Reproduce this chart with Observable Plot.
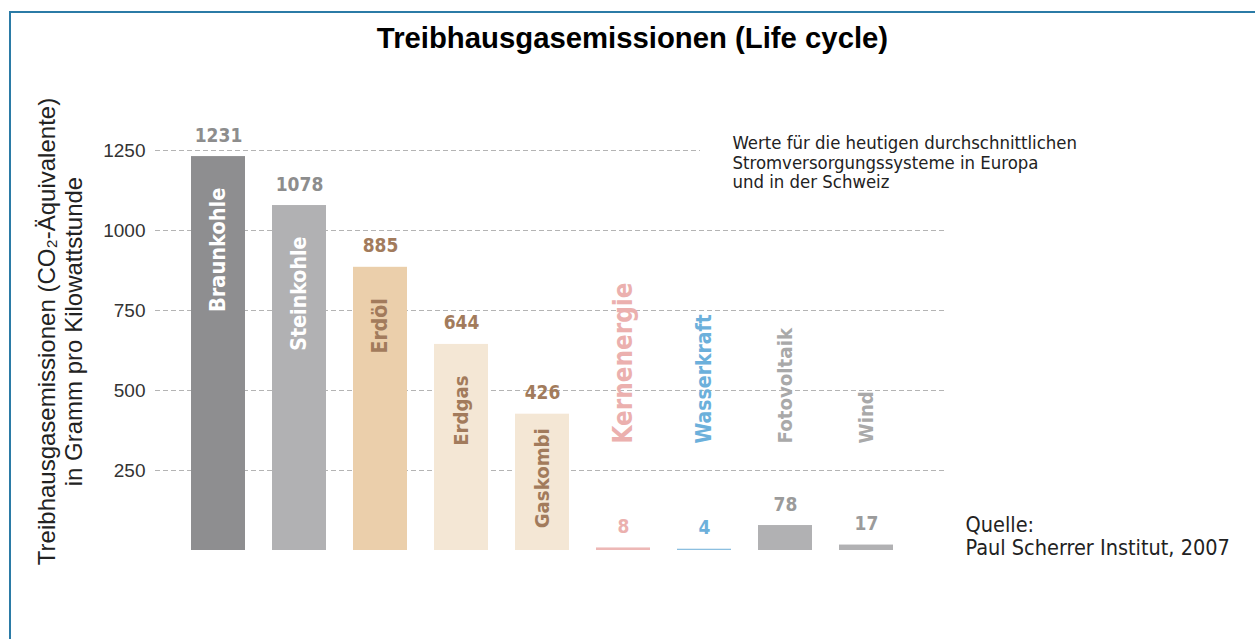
<!DOCTYPE html>
<html>
<head>
<meta charset="utf-8">
<script src="https://cdn.jsdelivr.net/npm/d3@7"></script>
<script src="https://cdn.jsdelivr.net/npm/@observablehq/plot@0.6"></script>
<style>
  html, body { margin: 0; padding: 0; background: #fff; }
  #page { position: relative; width: 1255px; height: 639px; overflow: hidden; background: #fff; }
  #frame { position: absolute; left: 9px; top: 11px; width: 1400px; height: 800px;
           border-top: 2px solid #2b7ba6; border-left: 2px solid #2b7ba6; }
  #title { position: absolute; left: 10px; top: 21px; width: 1245px; text-align: center;
           font: bold 29.3px "Liberation Sans", Arial, sans-serif; line-height: 33px; color: #000; }
  #chart { position: absolute; left: 0; top: 70px; }
</style>
</head>
<body>
<div id="page">
  <div id="frame"></div>
  <div id="title">Treibhausgasemissionen (Life cycle)</div>
  <div id="chart"></div>
</div>
<script>
// ---- data ----
const categories = ["Braunkohle", "Steinkohle", "Erdöl", "Erdgas", "Gaskombi", "Kernenergie", "Wasserkraft", "Fotovoltaik", "Wind"];
const values = [1231, 1078, 885, 644, 426, 8, 4, 78, 17];
const yTicks = [250, 500, 750, 1000, 1250];
const yLabel = "Treibhausgasemissionen (CO₂-Äquivalente)\nin Gramm pro Kilowattstunde";
const note = "Werte für die heutigen durchschnittlichen\nStromversorgungssysteme in Europa\nund in der Schweiz";
const source = "Quelle:\nPaul Scherrer Institut, 2007";

// ---- styles ----
const barColors = ["#8e8e90", "#b1b1b3", "#ebcfab", "#f4e7d5", "#f4e7d5", "#edb8b6", "#8cbfe0", "#b1b1b3", "#b1b1b3"];
const nameColors = ["#ffffff", "#ffffff", "#a27b5c", "#a27b5c", "#a27b5c", "#ebb0ae", "#6cb0db", "#a9a9a9", "#a9a9a9"];
const valueColors = ["#8d8d8d", "#8d8d8d", "#a27b5c", "#a27b5c", "#a27b5c", "#ebb0ae", "#6cb0db", "#9b9b9b", "#9b9b9b"];
const nameSizes = [21.6, 21.2, 21, 20.2, 20.2, 25.8, 21, 20.3, 20.3];

const data = categories.map((category, i) => ({
  category, value: values[i], barColor: barColors[i], nameColor: nameColors[i],
  valueColor: valueColors[i], nameSize: nameSizes[i]
}));

const dinFont = "'DejaVu Sans Condensed', 'DejaVu Sans', sans-serif";
const armFont = "'Liberation Sans', Arial, sans-serif";
const gridStyle = {stroke: "#b4b4b4", strokeDasharray: "5,3", strokeWidth: 1};
const nameStyle = {x: "category", text: "category", fill: "nameColor", fontSize: d => d.nameSize,
  rotate: -90, lineAnchor: "middle", fontWeight: "bold", fontFamily: dinFont};

const chart = Plot.plot({
  width: 1255,
  height: 569,
  marginLeft: 155,
  marginRight: 310,
  marginTop: 80,
  marginBottom: 89,
  x: {domain: categories, padding: 0.33, insetLeft: 7, insetRight: 22, axis: null},
  y: {domain: [0, 1250], axis: null, label: null},
  color: {type: "identity"},
  style: {background: "transparent", fontFamily: dinFont, overflow: "visible"},
  marks: [
    Plot.ruleY(yTicks.filter(t => t < 1250), gridStyle),
    Plot.ruleY(yTicks.filter(t => t >= 1250), {...gridStyle, insetRight: 245}),
    Plot.axisY({ticks: yTicks, tickFormat: d => String(d), tickSize: 0, tickPadding: 10, label: null,
      fontSize: 19, letterSpacing: -0.5, fontFamily: armFont, fill: "#333"}),
    Plot.barY(data, {x: "category", y: "value", fill: "barColor"}),
    // value labels above the bars
    Plot.text(data, {x: "category", y: "value", text: d => String(d.value), fill: "valueColor",
      lineAnchor: "bottom", dy: -15, fontSize: 19, fontWeight: "bold", fontFamily: dinFont}),
    // names inside tall bars
    Plot.text(data.filter(d => d.value >= 500), {...nameStyle, y: "value", textAnchor: "end", dy: 31}),
    Plot.text(data.filter(d => d.value >= 100 && d.value < 500), {...nameStyle, y: "value", textAnchor: "end", dy: 14}),
    // names above the short bars
    Plot.text(data.filter(d => d.value < 100), {...nameStyle, frameAnchor: "bottom", textAnchor: "start", dy: -107}),
    // y-axis title
    Plot.text([yLabel], {frameAnchor: "left", rotate: -90, textAnchor: "middle", lineAnchor: "middle",
      dx: -96, dy: -19, lineHeight: 1.12, fontSize: 24, fontFamily: armFont, fill: "#222"}),
    // note
    Plot.text([note], {frameAnchor: "top-right", textAnchor: "start", lineAnchor: "top", dx: -213, dy: -15,
      lineHeight: 1.05, fontSize: 18.4, fontFamily: dinFont, fill: "#222"}),
    // source
    Plot.text([source], {frameAnchor: "bottom-right", textAnchor: "start", lineAnchor: "bottom", dx: 20, dy: 4,
      lineHeight: 1.04, fontSize: 21.5, fontFamily: dinFont, fill: "#222"})
  ]
});
document.getElementById("chart").appendChild(chart);
</script>
</body>
</html>
